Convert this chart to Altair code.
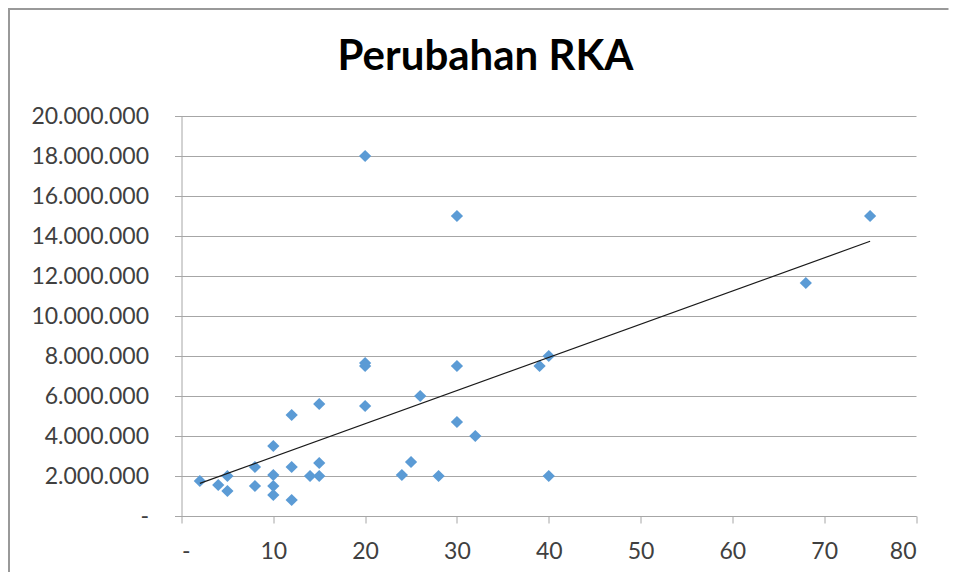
import altair as alt
import pandas as pd

# Data
x_vals = [2, 4, 5, 5, 8, 8, 10, 10, 10, 10, 12, 12, 12, 14, 15, 15, 15,
          20, 20, 20, 20, 24, 25, 26, 28, 30, 30, 30, 32, 39, 40, 40, 68, 75]
y_vals = [1750000, 1550000, 2000000, 1250000, 2450000, 1500000, 3500000, 2050000,
          1500000, 1050000, 5050000, 2450000, 800000, 2000000, 5600000, 2650000,
          2000000, 5500000, 18000000, 7650000, 7500000, 2050000, 2700000, 6000000,
          2000000, 15000000, 7500000, 4700000, 4000000, 7500000, 8000000, 2000000,
          11650000, 15000000]
x_ticks = [0, 10, 20, 30, 40, 50, 60, 70, 80]
y_ticks = [0, 2000000, 4000000, 6000000, 8000000, 10000000, 12000000,
           14000000, 16000000, 18000000, 20000000]
title_text = ["Perubahan RKA"]

df = pd.DataFrame({"x": x_vals, "y": y_vals})
df_title = pd.DataFrame({"t": title_text})

FONT = "Lato"
LABEL_COLOR = "#404040"
GRID_COLOR = "#a6a6a6"

x_enc = alt.X(
    "x:Q",
    scale=alt.Scale(domain=[0, 80], nice=False, zero=True),
    axis=alt.Axis(
        values=x_ticks, title=None, grid=False, labelOverlap=False,
        domainColor=GRID_COLOR, tickColor=GRID_COLOR, tickSize=7,
        labelFont=FONT, labelFontSize=23, labelColor=LABEL_COLOR,
        labelPadding=17,
        labelExpr="datum.value == 0 ? '-' : datum.label",
    ),
)
y_enc = alt.Y(
    "y:Q",
    scale=alt.Scale(domain=[0, 20000000], nice=False),
    axis=alt.Axis(
        values=y_ticks, title=None, grid=True, gridColor=GRID_COLOR,
        labelOverlap=False, tickCount=11,
        domainColor=GRID_COLOR, tickColor=GRID_COLOR, tickSize=7,
        labelFont=FONT, labelFontSize=23, labelColor=LABEL_COLOR,
        labelPadding=26,
        labelExpr="datum.value == 0 ? '-' : replace(format(datum.value, ','), /,/g, '.')",
    ),
)

points = alt.Chart(df).mark_point(
    shape="diamond", filled=True, size=150, color="#5B9BD5", opacity=1
).encode(x=x_enc, y=y_enc)

trend = alt.Chart(df).transform_regression("x", "y").mark_line(
    color="#1a1a1a", strokeWidth=1.2
).encode(x=x_enc, y=y_enc)

border_left = alt.Chart(df_title).mark_rule(color="#999999", strokeWidth=2).encode(
    x=alt.value(-172.5), y=alt.value(-108), y2=alt.value(456)
)
border_top = alt.Chart(df_title).mark_rule(color="#999999", strokeWidth=2).encode(
    x=alt.value(-173.5), x2=alt.value(767), y=alt.value(-107), y2=alt.value(-107)
)

title = alt.Chart(df_title).mark_text(
    font=FONT, fontSize=42, fontWeight="bold", color="#000000",
    align="center", baseline="alphabetic",
).encode(x=alt.value(304), y=alt.value(-46.5), text="t:N")

chart = alt.layer(border_left, border_top, title, points, trend).properties(
    width=734.5,
    height=400,
    padding={"left": 173.5, "top": 108, "right": 33, "bottom": 56},
    autosize=alt.AutoSizeParams(type="none"),
).configure_view(stroke=None)

chart.save("out.html", embed_options={"renderer": "svg", "actions": False})
